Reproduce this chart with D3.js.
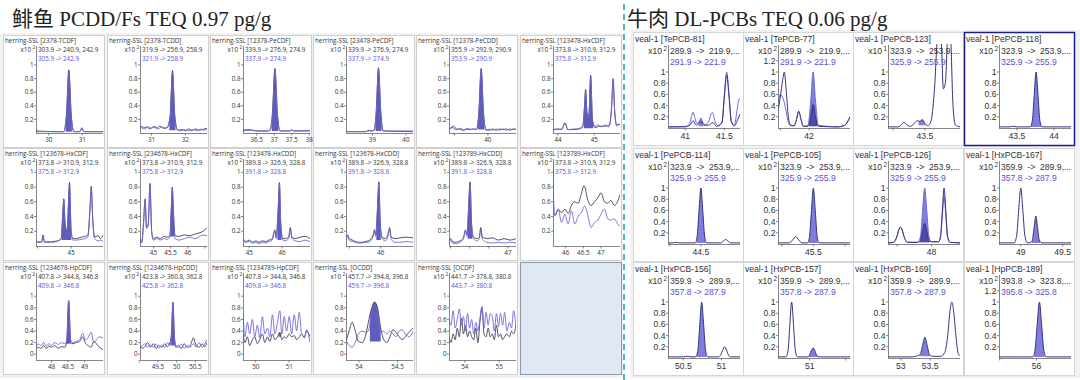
<!DOCTYPE html>
<html><head><meta charset="utf-8">
<script src="https://cdn.jsdelivr.net/npm/d3@7/dist/d3.min.js"></script>
<style>body{margin:0;background:#fff}svg{display:block}</style>
</head><body><svg id="c" width="1080" height="380"></svg>
<script>
// ---------------- LEFT PANEL DATA (herring) ----------------
const leftTitles = ["herring-SSL [2378-TCDF]","herring-SSL [2378-TCDD]","herring-SSL [12378-PeCDF]","herring-SSL [23478-PeCDF]","herring-SSL [12378-PeCDD]","herring-SSL [123478-HxCDF]",
"herring-SSL [123678-HxCDF]","herring-SSL [234678-HxCDF]","herring-SSL [123478-HxCDD]","herring-SSL [123678-HxCDD]","herring-SSL [123789-HxCDD]","herring-SSL [123789-HxCDF]",
"herring-SSL [1234678-HpCDF]","herring-SSL [1234678-HpCDD]","herring-SSL [1234789-HpCDF]","herring-SSL [OCDD]","herring-SSL [OCDF]"];
const leftMz1 = ["303.9 -> 240.9, 242.9","319.9 -> 256.9, 258.9","339.9 -> 276.9, 274.9","339.9 -> 276.9, 274.9","355.9 -> 292.9, 290.9","373.8 -> 310.9, 312.9",
"373.8 -> 310.9, 312.9","373.8 -> 310.9, 312.9","389.8 -> 326.9, 328.8","389.8 -> 326.9, 328.8","389.8 -> 326.9, 328.8","373.8 -> 310.9, 312.9",
"407.8 -> 344.8, 346.8","423.8 -> 360.8, 362.8","407.8 -> 344.8, 346.8","457.7 -> 394.8, 396.8","441.7 -> 378.8, 380.8"];
const leftMz2 = ["305.9 -> 242.9","321.9 -> 258.9","337.9 -> 274.9","337.9 -> 274.9","353.9 -> 290.9","375.8 -> 312.9",
"375.8 -> 312.9","375.8 -> 312.9","391.8 -> 328.8","391.8 -> 328.8","391.8 -> 328.8","375.8 -> 312.9",
"409.8 -> 346.8","425.8 -> 362.8","409.8 -> 346.8","459.7 -> 396.8","443.7 -> 380.8"];
const leftXDomains = [[29.62,31.62],[30.66,32.64],[36.11,38.02],[38.21,40.21],[38.84,40.84],[43.86,45.71],
[43.95,45.95],[44.61,46.56],[44.81,46.85],[44.9,47.02],[45.46,47.21],[45.64,47.54],
[47.53,49.56],[49.02,50.81],[49.62,51.62],[53.83,54.70],[53.54,55.49]];
const leftXTicks = [[30,31],[31,32],[36.5,37,37.5,38],[39,40],[39,40],[44,45],
[44,45],[45,45.5,46,46.5],[45,46],[45,46],[45.5,46,46.5,47],[46,46.5,47],
[48,48.5,49],[49,49.5,50,50.5],[50,51],[54,54.5],[54,55]];
const leftXUnlabeled = [[],[],[],[],[39],[],[44],[46.5],[],[45],[45.5,46,46.5],[],[],[49],[],[],[]];
const leftYTicksTop = [0.2,0.4,0.6,0.8,1];
const leftYTicksBottom = [0,0.2,0.4,0.6,0.8,1];
const leftYDomains = [[0,1.28],[0,1.18],[-0.10,1.40]];
const leftDark = [
[[29.62,0.03],[30.2,0.02],[30.45,0.02],[30.53,0.28],[30.6,0.93],[30.67,0.28],[30.75,0.02],[30.93,0.02],[30.99,0.07],[31.05,0.02],[31.62,0.02]],
[[30.66,0.1],[30.75,0.07],[30.85,0.09],[30.95,0.06],[31.05,0.09],[31.15,0.07],[31.25,0.1],[31.35,0.07],[31.47,0.08],[31.55,0.25],[31.62,0.92],[31.69,0.25],[31.77,0.04],[31.9,0.05],[32.0,0.03],[32.1,0.06],[32.2,0.04],[32.3,0.06],[32.4,0.04],[32.5,0.05],[32.64,0.07]],
[[36.11,0.04],[36.3,0.05],[36.5,0.03],[36.8,0.03],[36.88,0.04],[36.95,0.3],[37.02,0.95],[37.09,0.3],[37.16,0.03],[37.45,0.03],[37.5,0.05],[37.55,0.03],[38.02,0.03]],
[[38.21,0.02],[38.8,0.02],[38.9,0.04],[38.98,0.03],[39.05,0.05],[39.11,0.3],[39.18,0.96],[39.25,0.3],[39.32,0.03],[40.21,0.02]],
[[38.84,0.06],[38.95,0.08],[39.05,0.05],[39.15,0.06],[39.25,0.04],[39.35,0.06],[39.45,0.05],[39.55,0.06],[39.66,0.05],[39.73,0.3],[39.8,0.95],[39.87,0.3],[39.94,0.05],[40.05,0.04],[40.15,0.06],[40.25,0.04],[40.35,0.06],[40.45,0.05],[40.55,0.06],[40.65,0.04],[40.75,0.06],[40.84,0.05]],
[[43.86,0.05],[44.0,0.06],[44.1,0.05],[44.19,0.15],[44.27,0.05],[44.45,0.05],[44.6,0.07],[44.68,0.1],[44.73,0.4],[44.76,0.64],[44.8,0.3],[44.85,0.25],[44.9,0.85],[44.95,0.2],[45.02,0.08],[45.15,0.1],[45.3,0.1],[45.42,0.12],[45.48,0.4],[45.52,0.8],[45.56,0.35],[45.62,0.12],[45.71,0.13]],
[[43.95,0.06],[44.05,0.05],[44.12,0.06],[44.16,0.15],[44.2,0.06],[44.3,0.05],[44.45,0.06],[44.6,0.07],[44.7,0.1],[44.75,0.45],[44.78,0.64],[44.82,0.3],[44.88,0.2],[44.95,0.86],[45.0,0.2],[45.05,0.1],[45.15,0.1],[45.3,0.12],[45.42,0.13],[45.5,0.15],[45.56,0.5],[45.6,0.81],[45.64,0.4],[45.7,0.12],[45.8,0.14],[45.88,0.1],[45.95,0.15]],
[[44.61,0.1],[44.66,0.05],[44.71,0.3],[44.76,0.64],[44.8,0.25],[44.85,0.3],[44.9,0.85],[44.95,0.2],[45.0,0.1],[45.1,0.12],[45.2,0.1],[45.3,0.13],[45.4,0.12],[45.48,0.14],[45.52,0.5],[45.55,0.8],[45.58,0.5],[45.63,0.14],[45.75,0.13],[45.9,0.15],[46.05,0.14],[46.2,0.16],[46.35,0.18],[46.45,0.2],[46.56,0.25]],
[[44.81,0.1],[44.9,0.06],[45.0,0.08],[45.1,0.05],[45.2,0.07],[45.3,0.05],[45.4,0.07],[45.5,0.06],[45.6,0.08],[45.7,0.1],[45.75,0.18],[45.78,0.22],[45.82,0.12],[45.88,0.5],[45.92,0.86],[45.96,0.3],[46.02,0.1],[46.1,0.1],[46.2,0.12],[46.25,0.25],[46.3,0.12],[46.4,0.1],[46.55,0.12],[46.7,0.13],[46.85,0.1]],
[[44.9,0.1],[44.95,0.15],[45.0,0.1],[45.1,0.08],[45.2,0.06],[45.3,0.05],[45.4,0.05],[45.5,0.06],[45.6,0.07],[45.7,0.1],[45.76,0.15],[45.8,0.22],[45.84,0.15],[45.9,0.55],[45.94,0.87],[45.98,0.35],[46.04,0.12],[46.15,0.1],[46.22,0.15],[46.28,0.25],[46.33,0.12],[46.45,0.1],[46.6,0.11],[46.8,0.12],[47.02,0.11]],
[[45.46,0.08],[45.5,0.1],[45.55,0.06],[45.62,0.05],[45.7,0.06],[45.78,0.08],[45.84,0.12],[45.89,0.22],[45.93,0.15],[45.97,0.5],[46.01,0.87],[46.05,0.3],[46.1,0.12],[46.2,0.1],[46.25,0.12],[46.29,0.25],[46.33,0.12],[46.45,0.1],[46.6,0.11],[46.75,0.08],[46.9,0.1],[47.05,0.08],[47.21,0.1]],
[[45.64,0.45],[45.7,0.42],[45.79,0.5],[45.88,0.45],[45.98,0.5],[46.07,0.44],[46.16,0.55],[46.26,0.6],[46.35,0.58],[46.44,0.7],[46.52,0.82],[46.63,0.62],[46.72,0.55],[46.82,0.6],[46.91,0.65],[47.0,0.72],[47.1,0.6],[47.19,0.58],[47.28,0.62],[47.38,0.55],[47.47,0.6],[47.54,0.7]],
[[47.53,0.08],[47.6,0.12],[47.68,0.1],[47.76,0.15],[47.84,0.1],[47.92,0.14],[48.0,0.12],[48.1,0.15],[48.2,0.1],[48.3,0.13],[48.4,0.12],[48.46,0.2],[48.52,0.92],[48.58,0.2],[48.65,0.18],[48.75,0.2],[48.85,0.22],[48.95,0.3],[49.02,0.2],[49.1,0.15],[49.2,0.12],[49.28,0.22],[49.36,0.18],[49.45,0.12],[49.56,0.08]],
[[49.02,0.15],[49.08,0.1],[49.15,0.13],[49.22,0.2],[49.3,0.12],[49.38,0.18],[49.45,0.1],[49.52,0.15],[49.6,0.12],[49.68,0.18],[49.75,0.13],[49.82,0.2],[49.86,0.35],[49.9,0.9],[49.94,0.3],[49.98,0.12],[50.05,0.15],[50.12,0.1],[50.2,0.18],[50.28,0.12],[50.36,0.15],[50.45,0.28],[50.52,0.15],[50.6,0.12],[50.68,0.18],[50.75,0.13],[50.81,0.2]],
[[49.62,0.35],[49.68,0.2],[49.75,0.3],[49.82,0.15],[49.9,0.25],[49.97,0.3],[50.05,0.18],[50.12,0.25],[50.2,0.35],[50.27,0.2],[50.35,0.3],[50.42,0.22],[50.5,0.35],[50.57,0.25],[50.65,0.3],[50.72,0.38],[50.78,0.25],[50.85,0.3],[50.92,0.28],[51.0,0.35],[51.07,0.3],[51.15,0.32],[51.22,0.25],[51.3,0.3],[51.37,0.35],[51.45,0.28],[51.52,0.4],[51.62,0.3]],
[[53.83,0.22],[53.87,0.4],[53.91,0.55],[53.95,0.4],[53.99,0.22],[54.04,0.2],[54.08,0.3],[54.12,0.55],[54.16,0.78],[54.2,0.9],[54.24,0.8],[54.28,0.45],[54.32,0.25],[54.36,0.2],[54.4,0.3],[54.44,0.42],[54.48,0.38],[54.52,0.3],[54.56,0.25],[54.6,0.3],[54.65,0.38],[54.7,0.45]],
[[53.54,0.3],[53.6,0.2],[53.66,0.35],[53.72,0.25],[53.78,0.45],[53.84,0.3],[53.9,0.62],[53.96,0.35],[54.02,0.5],[54.08,0.3],[54.14,0.4],[54.2,0.3],[54.26,0.25],[54.32,0.45],[54.38,0.2],[54.44,0.55],[54.5,0.8],[54.56,0.35],[54.62,0.3],[54.68,0.45],[54.74,0.3],[54.8,0.35],[54.86,0.25],[54.92,0.5],[54.98,0.3],[55.04,0.35],[55.1,0.25],[55.16,0.3],[55.22,0.35],[55.3,0.3],[55.36,0.4],[55.42,0.35],[55.49,0.5]]
];
const leftBlue = [
[[29.62,0.02],[30.2,0.02],[30.45,0.02],[30.53,0.26],[30.6,0.91],[30.67,0.26],[30.75,0.02],[30.93,0.02],[30.99,0.08],[31.05,0.02],[31.62,0.02]],
[[30.66,0.08],[30.72,0.1],[30.8,0.06],[30.9,0.09],[31.0,0.07],[31.1,0.1],[31.2,0.06],[31.3,0.09],[31.42,0.07],[31.55,0.22],[31.62,0.9],[31.69,0.22],[31.77,0.05],[31.85,0.03],[31.95,0.05],[32.05,0.04],[32.15,0.03],[32.25,0.05],[32.35,0.03],[32.45,0.06],[32.55,0.04],[32.64,0.06]],
[[36.11,0.03],[36.3,0.04],[36.5,0.03],[36.8,0.03],[36.88,0.04],[36.95,0.28],[37.02,0.93],[37.09,0.28],[37.16,0.03],[37.45,0.03],[37.5,0.04],[37.55,0.03],[38.02,0.04]],
[[38.21,0.02],[38.8,0.02],[38.9,0.03],[38.98,0.03],[39.05,0.04],[39.11,0.28],[39.18,0.94],[39.25,0.28],[39.32,0.03],[40.21,0.03]],
[[38.84,0.04],[38.92,0.09],[39.0,0.1],[39.08,0.05],[39.18,0.07],[39.3,0.04],[39.4,0.07],[39.5,0.05],[39.6,0.06],[39.66,0.05],[39.73,0.28],[39.8,0.93],[39.87,0.28],[39.94,0.04],[40.05,0.06],[40.15,0.04],[40.25,0.06],[40.35,0.04],[40.45,0.06],[40.55,0.04],[40.65,0.06],[40.75,0.05],[40.84,0.06]],
[[43.86,0.05],[44.0,0.05],[44.1,0.06],[44.19,0.14],[44.27,0.05],[44.45,0.06],[44.6,0.06],[44.68,0.09],[44.73,0.38],[44.76,0.62],[44.8,0.28],[44.85,0.24],[44.9,0.83],[44.95,0.18],[45.02,0.1],[45.1,0.12],[45.2,0.09],[45.3,0.12],[45.4,0.09],[45.48,0.4],[45.52,0.78],[45.56,0.33],[45.62,0.1],[45.66,0.13],[45.71,0.11]],
[[43.95,0.05],[44.05,0.06],[44.12,0.05],[44.16,0.14],[44.2,0.05],[44.3,0.06],[44.45,0.05],[44.6,0.07],[44.7,0.09],[44.75,0.43],[44.78,0.62],[44.82,0.3],[44.88,0.2],[44.95,0.84],[45.0,0.18],[45.05,0.08],[45.15,0.08],[45.3,0.09],[45.42,0.1],[45.5,0.12],[45.56,0.48],[45.6,0.79],[45.64,0.38],[45.7,0.1],[45.8,0.07],[45.88,0.08],[45.95,0.06]],
[[44.61,0.08],[44.66,0.04],[44.71,0.28],[44.76,0.62],[44.8,0.24],[44.85,0.28],[44.9,0.83],[44.95,0.18],[45.0,0.08],[45.1,0.1],[45.2,0.08],[45.3,0.1],[45.4,0.09],[45.48,0.12],[45.52,0.48],[45.55,0.78],[45.58,0.48],[45.63,0.1],[45.75,0.08],[45.9,0.1],[46.05,0.12],[46.2,0.1],[46.35,0.13],[46.45,0.15],[46.56,0.14]],
[[44.81,0.08],[44.9,0.05],[45.0,0.06],[45.1,0.04],[45.2,0.05],[45.3,0.03],[45.4,0.05],[45.5,0.04],[45.6,0.06],[45.7,0.08],[45.75,0.16],[45.78,0.2],[45.82,0.1],[45.88,0.48],[45.92,0.84],[45.96,0.28],[46.02,0.08],[46.1,0.07],[46.2,0.1],[46.25,0.22],[46.3,0.1],[46.4,0.07],[46.55,0.06],[46.7,0.08],[46.85,0.06]],
[[44.9,0.08],[44.95,0.13],[45.0,0.08],[45.1,0.06],[45.2,0.05],[45.3,0.04],[45.4,0.04],[45.5,0.05],[45.6,0.05],[45.7,0.08],[45.76,0.13],[45.8,0.2],[45.84,0.13],[45.9,0.53],[45.94,0.85],[45.98,0.33],[46.04,0.1],[46.15,0.07],[46.22,0.12],[46.28,0.22],[46.33,0.09],[46.45,0.05],[46.6,0.05],[46.8,0.06],[47.02,0.05]],
[[45.46,0.06],[45.5,0.08],[45.55,0.04],[45.62,0.03],[45.7,0.04],[45.78,0.06],[45.84,0.1],[45.89,0.2],[45.93,0.13],[45.97,0.48],[46.01,0.85],[46.05,0.28],[46.1,0.1],[46.2,0.07],[46.25,0.1],[46.29,0.22],[46.33,0.09],[46.45,0.05],[46.6,0.04],[46.75,0.05],[46.9,0.04],[47.05,0.05],[47.21,0.04]],
[[45.64,1.15],[45.66,0.6],[45.7,0.41],[45.79,0.5],[45.88,0.32],[45.98,0.43],[46.07,0.3],[46.16,0.48],[46.26,0.3],[46.35,0.4],[46.44,0.45],[46.54,0.54],[46.63,0.41],[46.72,0.25],[46.82,0.32],[46.91,0.35],[47.0,0.43],[47.1,0.5],[47.19,0.37],[47.28,0.35],[47.38,0.37],[47.47,0.3],[47.54,0.27]],
[[47.53,0.12],[47.6,0.18],[47.68,0.15],[47.76,0.2],[47.84,0.14],[47.92,0.18],[48.0,0.15],[48.1,0.2],[48.2,0.17],[48.3,0.2],[48.4,0.18],[48.46,0.25],[48.52,0.93],[48.58,0.25],[48.65,0.2],[48.75,0.22],[48.85,0.25],[48.95,0.36],[49.02,0.25],[49.1,0.28],[49.2,0.38],[49.28,0.2],[49.36,0.25],[49.45,0.3],[49.56,0.28]],
[[49.02,0.1],[49.08,0.15],[49.15,0.18],[49.22,0.12],[49.3,0.16],[49.38,0.12],[49.45,0.18],[49.52,0.1],[49.6,0.16],[49.68,0.12],[49.75,0.2],[49.82,0.15],[49.86,0.33],[49.9,0.88],[49.94,0.28],[49.98,0.15],[50.05,0.12],[50.12,0.18],[50.2,0.1],[50.28,0.15],[50.36,0.12],[50.45,0.18],[50.52,0.12],[50.6,0.2],[50.68,0.12],[50.75,0.18],[50.81,0.25]],
[[49.62,0.72],[49.68,0.3],[49.75,0.55],[49.82,0.35],[49.9,0.6],[49.97,0.3],[50.05,0.5],[50.12,0.28],[50.2,0.65],[50.27,0.35],[50.35,0.45],[50.42,0.3],[50.5,0.68],[50.57,0.35],[50.65,0.55],[50.72,0.75],[50.78,0.35],[50.85,0.65],[50.92,0.4],[51.0,0.65],[51.07,0.35],[51.15,0.68],[51.22,0.4],[51.3,0.72],[51.37,0.35],[51.45,0.3],[51.52,0.42],[51.62,0.2]],
[[53.83,0.25],[53.87,0.15],[53.91,0.12],[53.95,0.2],[53.99,0.35],[54.04,0.4],[54.08,0.38],[54.12,0.4],[54.16,0.7],[54.2,0.85],[54.24,0.75],[54.28,0.38],[54.32,0.4],[54.36,0.35],[54.4,0.4],[54.44,0.35],[54.48,0.3],[54.52,0.4],[54.56,0.42],[54.6,0.35],[54.65,0.3],[54.7,0.4]],
[[53.54,0.6],[53.6,0.5],[53.66,0.75],[53.72,0.45],[53.78,0.6],[53.84,0.78],[53.9,0.5],[53.96,0.65],[54.02,0.4],[54.08,0.7],[54.14,0.45],[54.2,0.6],[54.26,0.35],[54.32,0.55],[54.38,0.4],[54.44,0.62],[54.5,0.82],[54.56,0.45],[54.62,0.72],[54.68,0.5],[54.74,0.7],[54.8,0.65],[54.86,0.4],[54.92,0.7],[54.98,0.48],[55.04,0.7],[55.1,0.5],[55.16,0.72],[55.22,0.4],[55.3,0.55],[55.36,0.45],[55.42,0.75],[55.49,0.45]]
];
const leftFills = [[[30.51,30.69,0.02]],[[31.53,31.71,0.04]],[[36.93,37.11,0.03]],[[39.09,39.27,0.03]],[[39.71,39.89,0.05]],[[44.71,44.97,0.07]],
[[44.72,45.0,0.08]],[[45.49,45.61,0.13]],[[45.86,45.98,0.08]],[[45.86,46.0,0.08]],[[45.95,46.07,0.1]],[],
[[48.46,48.58,0.18]],[[49.85,49.95,0.15]],[[50.68,50.76,0.3]],[[54.14,54.28,0.22]],[]];

// ---------------- RIGHT PANEL DATA (veal) ----------------
const rightTitles = ["veal-1 [TePCB-81]","veal-1 [TePCB-77]","veal-1 [PePCB-123]","veal-1 [PePCB-118]","veal-1 [PePCB-114]","veal-1 [PePCB-105]","veal-1 [PePCB-126]","veal-1 [HxPCB-167]","veal-1 [HxPCB-156]","veal-1 [HxPCB-157]","veal-1 [HxPCB-169]","veal-1 [HpPCB-189]"];
const rightExp = ["2","2","1","2","2","2","2","2","2","2","2","2"];
const rightMz1 = ["289.9  ->  219.9,...","289.9  ->  219.9,...","323.9  ->  253.9,...","323.9  ->  253.9,...","323.9  ->  253.9,...","323.9  ->  253.9,...","323.9  ->  253.9,...","359.9  ->  289.9,...","359.9  ->  289.9,...","359.9  ->  289.9,...","359.9  ->  289.9,...","393.8  ->  323.8,..."];
const rightMz2 = ["291.9 -> 221.9","291.9 -> 221.9","325.9 -> 255.9","325.9 -> 255.9","325.9 -> 255.9","325.9 -> 255.9","325.9 -> 255.9","357.8 -> 287.9","357.8 -> 287.9","357.8 -> 287.9","357.8 -> 287.9","395.8 -> 325.8"];
const rightXDomains = [[40.78,41.70],[41.46,42.71],[42.92,44.05],[43.26,44.23],[43.97,45.13],[44.94,46.08],[47.37,48.41],[48.74,49.60],[50.30,51.24],[50.56,51.56],[52.78,54.01],[55.49,56.47]];
const rightXTicks = [[41,41.5],[41.5,42],[43,43.5],[43.5,44],[44,44.5],[45,45.5,46],[47.5,48],[49,49.5],[50.5,51],[51,51.5],[53,53.5],[55.5,56]];
const rightXUnlabeled = [[],[41.5],[43],[],[44],[45,46],[47.5],[],[],[51.5],[],[55.5]];
const rightYTicks = [0.2,0.4,0.6,0.8,1];
const rightYTicksTall = [0.2,0.4,0.6,0.8,1,1.2];
const rightDark = [
[[40.78,0.02],[41.0,0.02],[41.06,0.05],[41.1,0.13],[41.14,0.05],[41.17,0.08],[41.2,0.12],[41.24,0.05],[41.3,0.05],[41.35,0.1],[41.4,0.03],[41.47,0.1],[41.5,0.55],[41.53,0.95],[41.56,0.55],[41.59,0.1],[41.63,0.04],[41.67,0.15],[41.70,0.25]],
[[41.46,0.3],[41.5,0.55],[41.54,0.85],[41.57,1.0],[41.6,0.7],[41.64,0.2],[41.68,0.05],[41.74,0.04],[41.78,0.15],[41.82,0.3],[41.86,0.15],[41.9,0.03],[41.98,0.03],[42.03,0.2],[42.07,0.42],[42.11,0.2],[42.16,0.03],[42.5,0.02],[42.62,0.05],[42.71,0.2]],
[[42.92,0.02],[43.08,0.02],[43.13,0.06],[43.17,0.1],[43.21,0.06],[43.27,0.03],[43.33,0.08],[43.38,0.13],[43.42,0.12],[43.46,0.15],[43.5,0.08],[43.55,0.04],[43.6,0.15],[43.65,0.7],[43.7,1.6],[43.75,1.6],[43.79,0.7],[43.82,0.8],[43.86,1.6],[43.9,1.6],[43.94,0.4],[43.98,0.05],[44.05,0.02]],
[[43.26,0.02],[43.4,0.02],[43.45,0.03],[43.5,0.02],[43.68,0.02],[43.71,0.14],[43.735,0.6],[43.76,1.0],[43.785,0.6],[43.81,0.14],[43.84,0.02],[44.0,0.02],[44.23,0.02]],
[[43.97,0.02],[44.05,0.02],[44.1,0.03],[44.15,0.02],[44.41,0.02],[44.44,0.14],[44.47,0.6],[44.5,1.0],[44.53,0.6],[44.56,0.14],[44.59,0.02],[44.82,0.02],[44.86,0.05],[44.9,0.08],[44.94,0.05],[44.98,0.02],[45.13,0.02]],
[[44.94,0.02],[45.12,0.02],[45.17,0.07],[45.22,0.13],[45.27,0.07],[45.32,0.02],[45.41,0.02],[45.44,0.14],[45.47,0.6],[45.5,1.0],[45.53,0.6],[45.56,0.14],[45.59,0.02],[46.08,0.02]],
[[47.37,0.02],[47.45,0.03],[47.5,0.14],[47.525,0.25],[47.55,0.3],[47.575,0.25],[47.6,0.14],[47.65,0.03],[47.8,0.03],[47.84,0.06],[47.87,0.23],[47.9,0.37],[47.93,0.23],[47.96,0.06],[48.0,0.04],[48.1,0.04],[48.13,0.15],[48.155,0.6],[48.18,1.0],[48.205,0.6],[48.23,0.14],[48.27,0.03],[48.41,0.02]],
[[48.74,0.02],[48.92,0.02],[48.95,0.14],[48.975,0.6],[49.0,1.0],[49.025,0.6],[49.05,0.14],[49.08,0.02],[49.12,0.03],[49.14,0.08],[49.16,0.3],[49.18,0.5],[49.2,0.3],[49.22,0.08],[49.25,0.02],[49.6,0.02]],
[[50.3,0.02],[50.5,0.02],[50.55,0.03],[50.6,0.02],[50.66,0.02],[50.69,0.14],[50.715,0.6],[50.74,1.0],[50.765,0.6],[50.79,0.14],[50.82,0.02],[50.96,0.02],[50.99,0.06],[51.015,0.14],[51.04,0.2],[51.065,0.14],[51.09,0.05],[51.12,0.02],[51.24,0.02]],
[[50.56,0.02],[50.67,0.02],[50.7,0.14],[50.725,0.6],[50.75,1.0],[50.775,0.6],[50.8,0.14],[50.83,0.02],[50.98,0.02],[51.0,0.06],[51.025,0.14],[51.05,0.18],[51.075,0.12],[51.1,0.04],[51.13,0.02],[51.56,0.02]],
[[52.78,0.02],[53.2,0.02],[53.25,0.03],[53.33,0.06],[53.37,0.22],[53.41,0.37],[53.45,0.22],[53.49,0.06],[53.55,0.03],[53.68,0.03],[53.75,0.1],[53.8,0.4],[53.84,0.85],[53.87,1.0],[53.9,0.85],[53.94,0.4],[53.98,0.08],[54.01,0.04]],
[[55.49,0.02],[55.8,0.02],[55.95,0.02],[55.98,0.14],[56.01,0.6],[56.04,1.0],[56.07,0.6],[56.1,0.14],[56.13,0.02],[56.47,0.02]]
];
const rightBlue = [
[[40.78,0.02],[41.0,0.03],[41.05,0.06],[41.08,0.2],[41.1,0.28],[41.12,0.2],[41.15,0.08],[41.18,0.12],[41.2,0.18],[41.22,0.12],[41.26,0.06],[41.3,0.12],[41.33,0.25],[41.35,0.28],[41.38,0.12],[41.42,0.04],[41.47,0.1],[41.5,0.6],[41.53,1.0],[41.56,0.6],[41.59,0.12],[41.63,0.05],[41.66,0.3],[41.69,0.52],[41.70,0.5]],
[[41.46,0.45],[41.5,0.6],[41.54,0.55],[41.57,0.45],[41.6,0.3],[41.64,0.1],[41.68,0.04],[41.74,0.04],[41.78,0.15],[41.82,0.3],[41.86,0.15],[41.9,0.03],[41.98,0.05],[42.03,0.5],[42.07,1.0],[42.11,0.5],[42.16,0.05],[42.5,0.02],[42.62,0.05],[42.71,0.2]],
null,null,null,null,
[[47.37,0.02],[47.45,0.03],[47.5,0.14],[47.525,0.25],[47.55,0.3],[47.575,0.25],[47.6,0.14],[47.65,0.03],[47.8,0.03],[47.84,0.14],[47.87,0.6],[47.9,1.0],[47.93,0.6],[47.96,0.14],[48.0,0.04],[48.1,0.04],[48.13,0.14],[48.155,0.5],[48.18,0.85],[48.205,0.5],[48.23,0.12],[48.27,0.03],[48.41,0.02]],
null,null,null,null,null
];
const rightFills = [[[41.17,41.23,0.03,"b"]],[[42.0,42.14,0.03,"b"],[42.0,42.14,0.03,"d"]],[[43.4,43.51,0.05,"b"]],[[43.69,43.83,0.02,"b"]],[[44.43,44.57,0.02,"b"]],[[45.43,45.57,0.02,"b"]],
[[47.83,47.97,0.03,"b"],[47.83,47.97,0.03,"d"]],[[49.13,49.23,0.02,"b"]],[[50.68,50.8,0.02,"b"]],[[50.99,51.11,0.02,"b"]],[[53.33,53.5,0.03,"b"]],[[55.97,56.11,0.02,"b"]]];

// ---------------- DRAWING ----------------
const svg = d3.select("#c");
const LX=[3,107,210,313,416,520], LT=[35,148,262], LW=101, LH=112;
const RX=[633,743,853,964], RT=[32,148,262], RW=110, RH=113;
let clipN=0;

function drawCell(o){
  const g = svg.append("g");
  g.append("rect").attr("x",o.x+0.5).attr("y",o.y+0.5).attr("width",o.w).attr("height",o.h)
   .attr("fill","#fff").attr("stroke",o.border).attr("stroke-width",o.bw);
  const xs = d3.scaleLinear().domain(o.xd).range([o.px0,o.px1]);
  const ys = d3.scaleLinear().domain(o.yd).range([o.pyb,o.pyt]);
  const cid = "clip"+(clipN++);
  svg.append("clipPath").attr("id",cid).append("rect")
    .attr("x",o.px0).attr("y",o.pyt).attr("width",o.px1-o.px0).attr("height",o.pyb-o.pyt);
  const plot = g.append("g").attr("clip-path",`url(#${cid})`);
  const line = d3.line().x(d=>xs(d[0])).y(d=>ys(d[1])).curve(d3.curveMonotoneX);
  o.fills.forEach(f=>{
    const tr = (f[3]==="d"||!o.blue) ? o.dark : o.blue;
    const fid = "clip"+(clipN++);
    svg.append("clipPath").attr("id",fid).append("rect")
      .attr("x",xs(f[0])).attr("y",o.pyt).attr("width",xs(f[1])-xs(f[0])).attr("height",o.pyb-o.pyt);
    const area = d3.area().x(d=>xs(d[0])).y0(ys(f[2])).y1(d=>Math.min(ys(f[2]),ys(d[1]))).curve(d3.curveMonotoneX);
    plot.append("g").attr("clip-path",`url(#${fid})`).append("path").datum(tr).attr("d",area)
      .attr("fill", f[3]==="d" ? o.fillDark : o.fillColor).attr("fill-opacity", f[3]==="d"?0.9:o.fillOp);
  });
  if(o.blue && o.blueFirst) plot.append("path").datum(o.blue).attr("d",line).attr("fill","none").attr("stroke",o.blueColor).attr("stroke-width",o.lw);
  plot.append("path").datum(o.dark).attr("d",line).attr("fill","none").attr("stroke",o.darkColor).attr("stroke-width",o.lw);
  if(o.blue && !o.blueFirst) plot.append("path").datum(o.blue).attr("d",line).attr("fill","none").attr("stroke",o.blueColor).attr("stroke-width",o.lw);
  // axes
  const ax = g.append("g").attr("font-family",o.font).attr("font-size",o.fs).attr("fill","#333");
  ax.append("line").attr("x1",o.px0+0.5).attr("x2",o.px0+0.5).attr("y1",o.axTop).attr("y2",o.pyb).attr("stroke","#666").attr("stroke-width",0.8);
  ax.append("line").attr("x1",o.px0).attr("x2",o.px1).attr("y1",o.pyb+0.5).attr("y2",o.pyb+0.5).attr("stroke","#666").attr("stroke-width",0.8);
  o.yt.forEach(v=>{
    const y=ys(v);
    ax.append("line").attr("x1",o.px0-2).attr("x2",o.px0).attr("y1",y).attr("y2",y).attr("stroke","#666").attr("stroke-width",0.8);
    ax.append("text").attr("x",o.px0-2.5).attr("y",y).attr("dy","0.35em").attr("text-anchor","end").text(String(v));
  });
  o.xt.forEach(v=>{
    const x=xs(v);
    ax.append("line").attr("x1",x).attr("x2",x).attr("y1",o.pyb).attr("y2",o.pyb+2.5).attr("stroke","#666").attr("stroke-width",0.8);
    if(!o.xu.includes(v)) ax.append("text").attr("x",x).attr("y",o.pyb+o.xly).attr("text-anchor","middle").text(String(v));
  });
  // texts
  const t = g.append("g").attr("font-family",o.font).attr("font-size",o.fs);
  t.append("text").attr("x",o.x+2).attr("y",o.y+o.ty).attr("fill","#333").text(o.title);
  t.append("text").attr("x",o.px0-o.xoff).attr("y",o.y+o.l1y).attr("fill","#333").attr("text-anchor","end").text("x10");
  t.append("text").attr("x",o.px0-o.xoff+1.5).attr("y",o.y+o.l1y-3).attr("fill","#333").attr("font-size",o.fs*0.75).text(o.exp);
  t.append("text").attr("x",o.px0+2).attr("y",o.y+o.l1y).attr("fill","#333").attr("xml:space","preserve").text(o.mz1);
  t.append("text").attr("x",o.px0+2).attr("y",o.y+o.l2y).attr("fill",o.blueText).attr("xml:space","preserve").text(o.mz2);
}

// background & separator
svg.append("rect").attr("x",0).attr("y",33).attr("width",623).attr("height",345).attr("fill","#f2f2f2");
svg.append("rect").attr("x",630).attr("y",30).attr("width",450).attr("height",348).attr("fill","#f2f2f2");

leftTitles.forEach((title,i)=>{
  const c=i%6, r=Math.floor(i/6), x=LX[c], y=LT[r];
  drawCell({x:x,y:y,w:LW,h:LH,border:"#cfcfcf",bw:1,
    xd:leftXDomains[i], yd:leftYDomains[r], px0:x+33, px1:x+100, pyb:y+98, pyt:y+11, axTop:y+11,
    dark:leftDark[i], blue:leftBlue[i], blueFirst:false, fills:leftFills[i].map(f=>[f[0],f[1],f[2],"d"]),
    fillColor:"#4f4ab4", fillDark:"#4f4ab4", fillOp:0.9, darkColor:"#3d3d55", blueColor:"#6f66dc", lw:0.9,
    yt: r===2?leftYTicksBottom:leftYTicksTop, xt:leftXTicks[i], xu:leftXUnlabeled[i], xly:9,
    font:"'Open Sans','Noto Sans',sans-serif", fs:6.3, ty:8, l1y:17, l2y:26, xoff:5, exp:"2",
    title:title, mz1:leftMz1[i], mz2:leftMz2[i], blueText:"#5a50d8"});
});
// blank cell
svg.append("rect").attr("x",520.5).attr("y",262.5).attr("width",101).attr("height",112).attr("fill","#dfe8f3").attr("stroke","#8a9aa8").attr("stroke-width",1);

rightTitles.forEach((title,i)=>{
  const c=i%4, r=Math.floor(i/4), x=RX[c], y=RT[r];
  const sel = (i===3);
  drawCell({x:x,y:y,w:RW,h:RH,border:sel?"#1d1d8a":"#d6d6d6",bw:sel?1.5:1,
    xd:rightXDomains[i], yd:[0,1.5], px0:x+35, px1:x+107, pyb:y+96, pyt:y+12, axTop:y+13,
    dark:rightDark[i], blue:rightBlue[i], blueFirst:true, fills:rightFills[i],
    fillColor:"#746ed8", fillDark:"#4a45a8", fillOp:0.9, darkColor:"#34347e", blueColor:"#7068e0", lw:1,
    yt:(i===1||i===11)?rightYTicksTall:rightYTicks, xt:rightXTicks[i], xu:rightXUnlabeled[i], xly:11,
    font:"'Liberation Sans',Arial,sans-serif", fs:8.6, ty:10, l1y:22, l2y:33, xoff:6, exp:rightExp[i],
    title:title, mz1:rightMz1[i], mz2:rightMz2[i], blueText:"#5a50d8"});
});

// dashed separator
svg.append("line").attr("x1",624).attr("x2",624).attr("y1",4).attr("y2",380)
  .attr("stroke","#2aa6a6").attr("stroke-width",1.6).attr("stroke-dasharray","6,4");

// panel titles
svg.append("text").attr("x",12).attr("y",26).attr("font-family","'Liberation Serif','Noto Sans CJK SC',serif").attr("font-size",21).attr("fill","#222").text("鲱鱼 PCDD/Fs TEQ 0.97 pg/g");
svg.append("text").attr("x",627).attr("y",26).attr("font-family","'Liberation Serif','Noto Sans CJK SC',serif").attr("font-size",21).attr("fill","#222").text("牛肉 DL-PCBs TEQ 0.06 pg/g");
</script></body></html>
